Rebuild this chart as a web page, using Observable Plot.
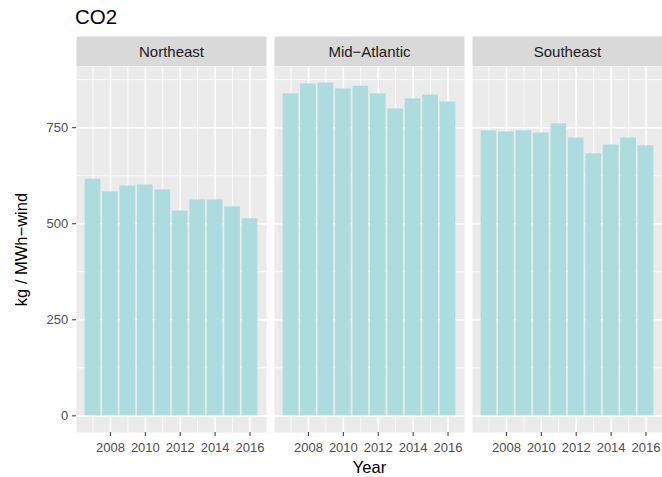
<!DOCTYPE html>
<html><head><meta charset="utf-8">
<script src="https://cdn.jsdelivr.net/npm/d3@7"></script>
<script src="https://cdn.jsdelivr.net/npm/@observablehq/plot@0.6"></script>
<style>
body{margin:0;background:#fff;font-family:"Liberation Sans",Arial,sans-serif}
#title{height:36px;box-sizing:border-box;padding:7px 0 0 75px;font-size:20.5px;line-height:20.5px;color:#000}
</style>
</head><body>
<div id="title">CO2</div>
<div id="chart"></div>
<script>
const regions = ["Northeast", "Mid\u2212Atlantic", "Southeast"];
const years = [2007, 2008, 2009, 2010, 2011, 2012, 2013, 2014, 2015, 2016];
const northeast = [616, 583, 598, 601, 588, 533, 562, 562, 544, 513];
const midAtlantic = [838, 864, 866, 851, 858, 838, 799, 825, 835, 817];
const southeast = [742, 739, 742, 736, 760, 723, 682, 705, 723, 703];
const xTicks = [2008, 2010, 2012, 2014, 2016];
const xMinor = [2007, 2009, 2011, 2013, 2015];
const yTicks = [0, 250, 500, 750];
const yMinor = [125, 375, 625, 875];

const series = [northeast, midAtlantic, southeast];
const data = [];
regions.forEach((r, i) => years.forEach((yr, j) => data.push({region: r, year: yr, value: series[i][j]})));

const grid = {stroke: "white", strokeOpacity: 1};
const chart = Plot.plot({
  width: 662, height: 441,
  marginTop: 30, marginBottom: 45, marginLeft: 75, marginRight: 0,
  style: {fontFamily: "Liberation Sans, Arial, sans-serif", background: "white"},
  fx: {domain: regions, paddingInner: 0.0428, paddingOuter: 0, label: null},
  x: {domain: [2006.055, 2016.945]},
  y: {domain: [-43.3, 909.3]},
  marks: [
    Plot.frame({fill: "#EBEBEB"}),
    Plot.frame({fill: "#D9D9D9", insetTop: -30, insetBottom: 366.3}),
    Plot.gridX(xMinor, {...grid, strokeWidth: 0.8}),
    Plot.gridY(yMinor, {...grid, strokeWidth: 0.8}),
    Plot.gridX(xTicks, {...grid, strokeWidth: 1.6}),
    Plot.gridY(yTicks, {...grid, strokeWidth: 1.6}),
    Plot.rectY(data, {fx: "region", x1: d => d.year - 0.45, x2: d => d.year + 0.45, y1: 0, y2: "value", fill: "#ADDCDE"}),
    Plot.axisX({ticks: xTicks, tickFormat: d => String(d), tickSize: 4, tickPadding: 6, fontSize: 13, stroke: "#333333", fill: "#4D4D4D", label: null}),
    Plot.axisY({ticks: yTicks, tickSize: 4, tickPadding: 4.3, fontSize: 13, stroke: "#333333", fill: "#4D4D4D", label: null}),
    Plot.axisY({ticks: [], tickSize: 0, fontSize: 16.5, fill: "black", label: "kg / MWh\u2212wind", labelAnchor: "center", labelArrow: "none", labelOffset: 61}),
    Plot.axisFx({anchor: "top", tickSize: 0, tickPadding: 10, fontSize: 15, fill: "#1A1A1A", label: null}),
    Plot.axisFx({anchor: "bottom", tickSize: 0, tickFormat: () => "", fontSize: 16.5, fill: "black", label: "Year", labelAnchor: "center", labelArrow: "none", labelOffset: 40})
  ]
});
document.getElementById("chart").appendChild(chart);
</script>
</body></html>
